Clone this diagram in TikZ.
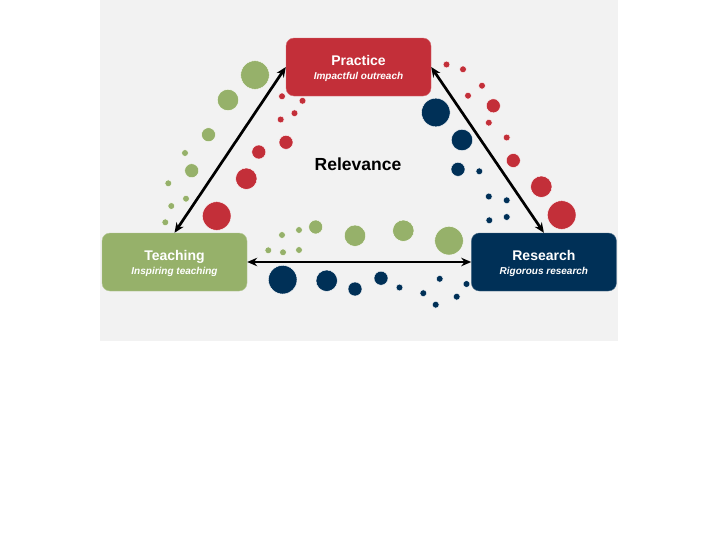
\documentclass[tikz,border=0pt]{standalone}
\usepackage{fontspec}
\setmainfont{Liberation Sans}
\usepackage{tikz}
\usetikzlibrary{arrows.meta,positioning}
\definecolor{myred}{RGB}{195,47,57}
\definecolor{mygreen}{RGB}{150,177,106}
\definecolor{mynavy}{RGB}{0,48,87}
\definecolor{mygray}{RGB}{242,242,242}
\tikzstyle{box}=[rounded corners=8pt,minimum width=145pt,minimum height=58pt,inner sep=0pt,text=white,align=center,font=\bfseries\fontsize{14}{13.8}\selectfont]
\newcommand{\subline}[1]{{\itshape\fontsize{10}{13.8}\selectfont #1}}
\newcommand{\topline}[1]{\rule{0pt}{13.2pt}#1}
\begin{document}
\begin{tikzpicture}[x=1pt,y=-1pt,link/.style={line width=2.7pt,{Stealth[length=10pt,width=8.5pt]}-{Stealth[length=10pt,width=8.5pt]}}]
\useasboundingbox (0,0) rectangle (720,541);
\fill[mygray] (100,0) rectangle (618,341);
\foreach \x/\y/\r in {255/75/14.3, 228/100/10.7, 208.5/134.7/7, 185/153/3.4, 191.7/170.7/7, 168.3/183.3/3.4, 186/198.7/3.4, 171.3/206/3.4, 165.3/222.3/3.4,
  268.3/250.3/3.4, 282/235/3.4, 283/252.3/3.4, 299/230/3.4, 299/250/3.4, 315.7/227/7, 355/235.7/10.7, 403.3/230.7/10.7, 449/240.7/14.3}
  \filldraw[fill=mygreen,draw=white,line width=0.4pt] (\x,\y) circle (\r pt);
\foreach \x/\y/\r in {282/96.3/3.4, 302.5/100.8/3.4, 294.5/113.2/3.4, 280.7/119.5/3.4, 286/142.3/7, 258.8/152/7, 246.3/178.7/10.7, 216.7/216/14.3,
  446.5/64.5/3.4, 463/69.3/3.4, 482/85.7/3.4, 468/95.7/3.4, 493.3/105.8/7, 488.8/122.7/3.4, 506.7/137.5/3.4, 513.3/160.5/7, 541.3/186.7/10.7, 561.7/215/14.3}
  \filldraw[fill=myred,draw=white,line width=0.4pt] (\x,\y) circle (\r pt);
\foreach \x/\y/\r in {435.8/112.5/14.3, 462/140/10.7, 458/169.3/7, 479.3/171.3/3.4, 488.8/196.5/3.4, 506.7/200.3/3.4, 489.3/220.3/3.4, 506.7/217/3.4,
  282.7/279.7/14.3, 326.7/280.7/10.7, 355/289/7, 381/278.2/7, 399.5/287.5/3.4, 423.3/293.2/3.4, 435.7/304.7/3.4, 439.7/278.8/3.4, 456.7/296.7/3.4, 466.5/284/3.4}
  \filldraw[fill=mynavy,draw=white,line width=0.4pt] (\x,\y) circle (\r pt);
\node [box,fill=mygreen,draw=mygreen!70!white] (teaching) at (174.5,262) {\topline{Teaching}\\\subline{Inspiring teaching}};
\node [box,fill=mynavy,draw=mynavy!70!white] [right=224pt of teaching] (research) {\topline{Research}\\\subline{Rigorous research}};
\node [box,fill=myred,draw=myred!70!white] (practice) at (358.5,67) {\topline{Practice}\\\subline{Impactful outreach}};
\node [font=\bfseries\fontsize{17.5}{20}\selectfont] (relevance) at (358,164) {Relevance};
\draw [link] (teaching.north) -- (practice.west);
\draw [link] (practice.east) -- (research.north);
\draw [link] (teaching.east) -- (research.west);
\end{tikzpicture}
\end{document}
